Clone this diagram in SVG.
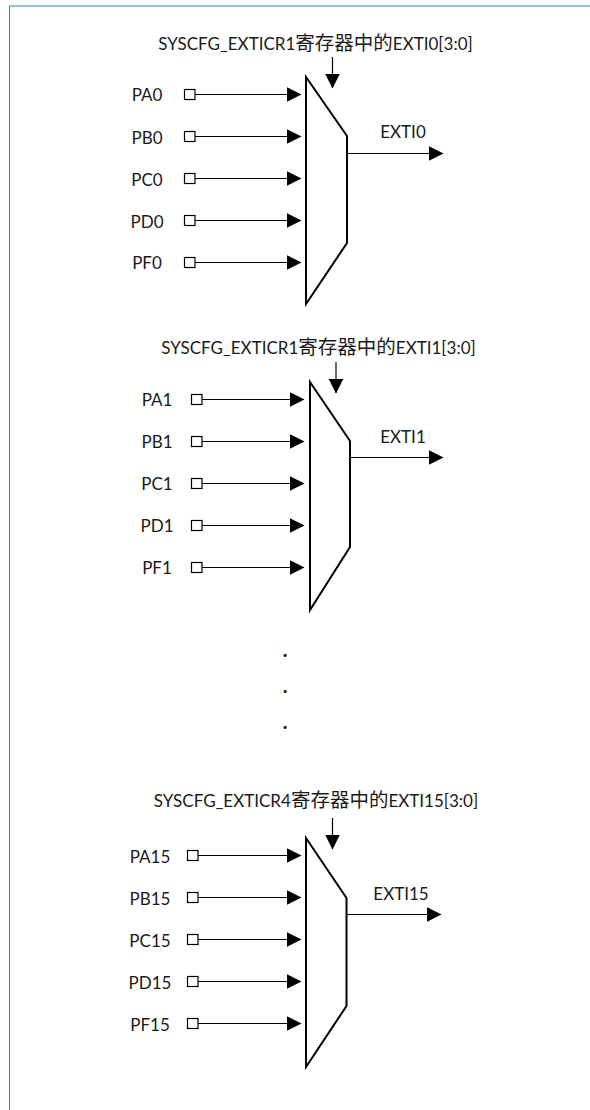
<svg xmlns="http://www.w3.org/2000/svg" width="590" height="1110" viewBox="0 0 590 1110">
<style>
text{font-family:Lato,"Noto Sans CJK SC",sans-serif;font-size:17px;fill:#1a1a1a}
.c{text-anchor:middle}
.t{font-size:17px}
.z{font-size:19.500px}
.d{font-weight:700;font-size:20px}
.mux{fill:#fff;stroke:#000;stroke-width:2}
.pin{fill:#fff;stroke:#000;stroke-width:1.200}
.w{stroke:#000;stroke-width:1.200;fill:none;marker-end:url(#a)}
</style>
<defs><marker id="a" markerUnits="userSpaceOnUse" markerWidth="15" markerHeight="16" refX="14.500" refY="7.500" orient="auto"><path d="M0 0L15 7.500L0 15Z" fill="#000"/></marker></defs>
<path id="frame" d="M590 6H9.500V1110" fill="none" stroke="#2e86c8" stroke-width="1"/>
<g id="connectors">
<path class="w" d="M195 94.500H301"/><path class="w" d="M195 136.500H301"/><path class="w" d="M195 178.500H301"/><path class="w" d="M195 220.500H301"/><path class="w" d="M195 262.500H301"/>
<path class="w" d="M332.500 57V88"/><path class="w" d="M347 153.500H443"/>
<path class="w" d="M202 399.500H304"/><path class="w" d="M202 441.500H304"/><path class="w" d="M202 483.500H304"/><path class="w" d="M202 525.500H304"/><path class="w" d="M202 567.500H304"/>
<path class="w" d="M336 362V393"/><path class="w" d="M350 457.500H443"/>
<path class="w" d="M198 855.500H301"/><path class="w" d="M198 897.500H301"/><path class="w" d="M198 939.500H301"/><path class="w" d="M198 981.500H301"/><path class="w" d="M198 1023.500H301"/>
<path class="w" d="M332.500 818V849"/><path class="w" d="M347 914.500H441"/>
</g>
<g id="mux0">
<path class="mux" d="M306 77L347 136V243L306 304Z"/>
<text x="315.500" y="50" class="c t">SYSCFG_EXTICR1<tspan class="z">寄存器中的</tspan>EXTI0[3:0]</text>
<text x="403" y="138" class="c t">EXTI0</text>
</g>
<g id="inputs0">
<text x="147" y="101" class="c">PA0</text><rect class="pin" x="184.500" y="89.500" width="10.500" height="10"/>
<text x="147" y="144" class="c">PB0</text><rect class="pin" x="184.500" y="131.500" width="10.500" height="10"/>
<text x="147" y="186" class="c">PC0</text><rect class="pin" x="184.500" y="173.500" width="10.500" height="10"/>
<text x="147" y="228" class="c">PD0</text><rect class="pin" x="184.500" y="215.500" width="10.500" height="10"/>
<text x="147" y="269" class="c">PF0</text><rect class="pin" x="184.500" y="257.500" width="10.500" height="10"/>
</g>
<g id="mux1">
<path class="mux" d="M310 382L350 441V547L310 610Z"/>
<text x="318.500" y="354" class="c t">SYSCFG_EXTICR1<tspan class="z">寄存器中的</tspan>EXTI1[3:0]</text>
<text x="403" y="443" class="c t">EXTI1</text>
</g>
<g id="inputs1">
<text x="157" y="406" class="c">PA1</text><rect class="pin" x="191.500" y="394.500" width="10.500" height="10"/>
<text x="157" y="448" class="c">PB1</text><rect class="pin" x="191.500" y="436.500" width="10.500" height="10"/>
<text x="157" y="490" class="c">PC1</text><rect class="pin" x="191.500" y="478.500" width="10.500" height="10"/>
<text x="157" y="532" class="c">PD1</text><rect class="pin" x="191.500" y="520.500" width="10.500" height="10"/>
<text x="157" y="574" class="c">PF1</text><rect class="pin" x="191.500" y="562.500" width="10.500" height="10"/>
</g>
<g id="dots">
<text x="285" y="657" class="c d">.</text>
<text x="285" y="693" class="c d">.</text>
<text x="285" y="729" class="c d">.</text>
</g>
<g id="mux15">
<path class="mux" d="M306 838L346.500 898V1006L306 1067Z"/>
<text x="316" y="807" class="c t">SYSCFG_EXTICR4<tspan class="z">寄存器中的</tspan>EXTI15[3:0]</text>
<text x="401" y="900" class="c t">EXTI15</text>
</g>
<g id="inputs15">
<text x="150" y="863" class="c">PA15</text><rect class="pin" x="187.500" y="850.500" width="10.500" height="10"/>
<text x="150" y="905" class="c">PB15</text><rect class="pin" x="187.500" y="892.500" width="10.500" height="10"/>
<text x="150" y="947" class="c">PC15</text><rect class="pin" x="187.500" y="934.500" width="10.500" height="10"/>
<text x="150" y="989" class="c">PD15</text><rect class="pin" x="187.500" y="976.500" width="10.500" height="10"/>
<text x="150" y="1031" class="c">PF15</text><rect class="pin" x="187.500" y="1018.500" width="10.500" height="10"/>
</g>
</svg>
